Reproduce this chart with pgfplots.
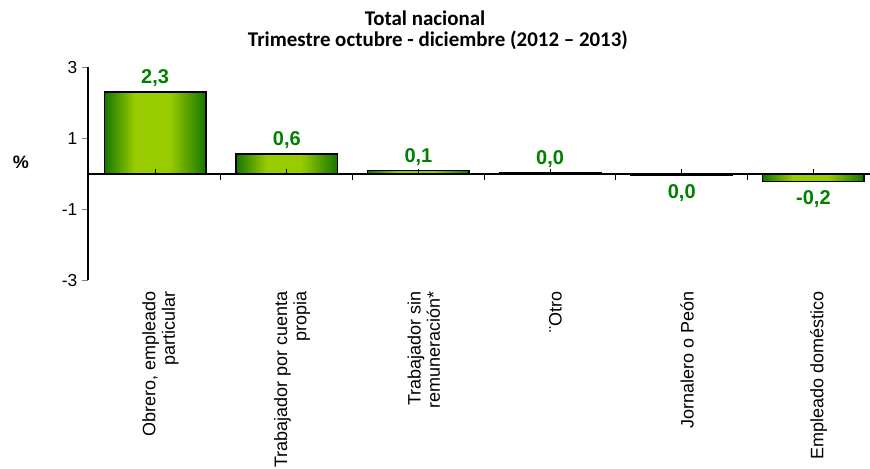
\documentclass[border=0pt]{standalone}
\usepackage{pgfplots}
\pgfplotsset{compat=1.18}
\usepackage{fontspec}
\setmainfont{Liberation Sans}
\newfontfamily\titlefont{Carlito}
\definecolor{bardark}{RGB}{22,118,0}
\definecolor{barlight}{RGB}{153,204,0}
\definecolor{labgreen}{RGB}{0,128,0}
\pgfdeclarehorizontalshading{barshade}{100bp}{color(0bp)=(bardark); color(25bp)=(bardark); color(40bp)=(barlight); color(57bp)=(barlight); color(75bp)=(bardark); color(100bp)=(bardark)}
\pgfplotsset{
  gbar/.style={bar shift=0pt, draw=black, line width=1.1pt, shading=barshade},
  negbar/.style={gbar, every node near coord/.append style={anchor=north, yshift=-3pt}},
}

\begin{document}
\begin{tikzpicture}
\path[use as bounding box] (-66pt,-141pt) rectangle (586.5pt,210.25pt);
\begin{axis}[
  scale only axis, width=586.5pt, height=159.75pt,
  xmin=-0.51, xmax=5.43, ymin=-3, ymax=3,
  axis y line*=left, axis x line*=bottom,
  x axis line style={draw=none},
  ytick={-3,-1,1,3}, tick align=outside,
  major tick length=4.5pt,
  y axis line style={line width=0.9pt},
  ytick style={line width=0.9pt},
  xtick={0,...,5}, xtick style={draw=none},
  xticklabels={{Obrero, empleado\\particular},{Trabajador por cuenta\\propia},{Trabajador sin\\remuneración*},{¨Otro},{Jornalero o Peón},{Empleado doméstico}},
  xticklabel style={rotate=90, anchor=east, align=right, font=\fontsize{13.5}{14.5}\selectfont, yshift=-4pt},
  yticklabel style={font=\fontsize{13}{14}\selectfont},
  /pgf/number format/assume math mode=true,
  ylabel={\%},
  ylabel style={rotate=-90, at={(axis description cs:-0.0857,0.554)}, anchor=center, font=\bfseries\fontsize{13.5}{14}\selectfont},
  ybar, bar width=0.77,
  nodes near coords, point meta=explicit symbolic,
  every node near coord/.append style={font=\bfseries\fontsize{15}{16}\selectfont, text=labgreen},
  clip=false,
]
\addplot[gbar] coordinates {(0,2.30) [2,3]};
\addplot[gbar] coordinates {(1,0.56) [0,6]};
\addplot[gbar] coordinates {(2,0.10) [0,1]};
\addplot[gbar] coordinates {(3,0.03) [0,0]};
\addplot[negbar] coordinates {(4,-0.04) [0,0]};
\addplot[negbar] coordinates {(5,-0.22) [-0,2]};
\draw[black, line width=1.1pt] (axis cs:-0.51,0) -- (axis cs:5.43,0);
\pgfplotsinvokeforeach{0,1,2,3,4,5}{\draw[black, line width=0.8pt] (axis cs:#1,0) -- ++(0pt,3.5pt);}
\pgfplotsinvokeforeach{0.5,1.5,2.5,3.5,4.5}{\draw[black, line width=0.8pt] (axis cs:#1,0) -- ++(0pt,-4.5pt);}
\end{axis}
\node[anchor=base, font=\titlefont\bfseries\fontsize{15.7}{18}\selectfont] at (252.75pt,191.25pt) {Total nacional};
\node[anchor=base, font=\titlefont\bfseries\fontsize{15.7}{18}\selectfont] at (262.5pt,175.5pt) {Trimestre octubre - diciembre (2012 – 2013)};
\end{tikzpicture}
\end{document}
